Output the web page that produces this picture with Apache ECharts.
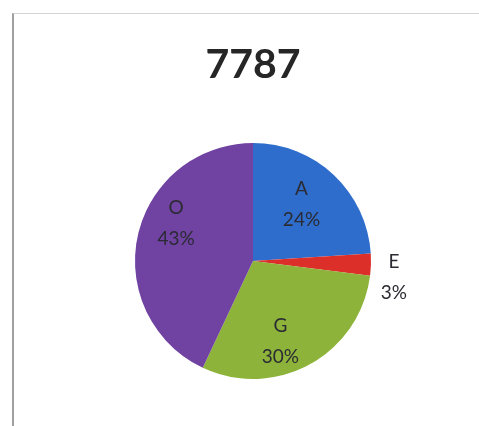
<!DOCTYPE html>
<html>
<head>
<meta charset="utf-8">
<script src="https://cdn.jsdelivr.net/npm/echarts@6/dist/echarts.min.js"></script>
<style>
  html, body { margin: 0; padding: 0; background: #fff; }
  .frame {
    position: absolute;
    left: 12px;
    top: 13px;
    width: 467px;
    height: 413px;
    border-left: 2px solid #a0a0a0;
    border-top: 1px solid #d4d4d4;
  }
  #chart { position: absolute; left: 0; top: 0; width: 479px; height: 426px; }
</style>
</head>
<body>
<div class="frame"></div>
<div id="chart"></div>
<script>
  // chart values
  var titleText = '7787'
  var categories = ['A', 'E', 'G', 'O']
  var values = [24, 3, 30, 43]
  var colors = ['#2e6dcc', '#dc2f2a', '#8db33a', '#7042a2']

  var labelFont = 'Lato, "Open Sans", sans-serif'
  // nudge labels toward the spots the reference uses (best fit look)
  var labelNudge = { A: [-9, 5], E: [-3, 12], G: [-13, 7], O: [5, -19] }

  var pieData = categories.map(function(name, i) {
    return { name: name, value: values[i], itemStyle: { color: colors[i] } }
  })

  // transparent copy used only to place the labels
  var labelData = categories.map(function(name, i) {
    var item = { name: name, value: values[i], label: { offset: labelNudge[name] } }
    if (name === 'E') { // small slice, label sits outside
      item.label = {
        position: 'outside',
        offset: labelNudge[name],
        formatter: '{c|{b}}\n{c|{d}%}',
        rich: {
          c: { width: 30, align: 'center', fontSize: 19, lineHeight: 31, color: '#2b2b33', fontFamily: labelFont }
        }
      }
      item.labelLine = { show: false, length: 6, length2: 0 }
    }
    return item
  })

  var chart = echarts.init(document.getElementById('chart'))
  chart.setOption({
    animation: false,
    title: {
      text: titleText,
      left: 248,
      top: 39,
      textAlign: 'center',
      textStyle: {
        fontFamily: labelFont,
        fontWeight: 'bold',
        fontSize: 41,
        color: '#262626'
      }
    },
    series: [{
      type: 'pie',
      center: [253, 261],
      radius: 118,
      startAngle: 90,
      clockwise: true,
      silent: true,
      label: { show: false },
      labelLine: { show: false },
      itemStyle: { borderWidth: 0 },
      data: pieData
    }, {
      type: 'pie',
      center: [253, 261],
      radius: [44, 118],
      startAngle: 90,
      clockwise: true,
      silent: true,
      itemStyle: { color: 'rgba(0,0,0,0)', borderWidth: 0 },
      label: {
        show: true,
        position: 'inside',
        formatter: '{b}\n{d}%',
        fontSize: 19,
        lineHeight: 31,
        color: '#2b2b33',
        fontFamily: labelFont
      },
      labelLine: { show: false },
      data: labelData
    }]
  })
</script>
</body>
</html>
